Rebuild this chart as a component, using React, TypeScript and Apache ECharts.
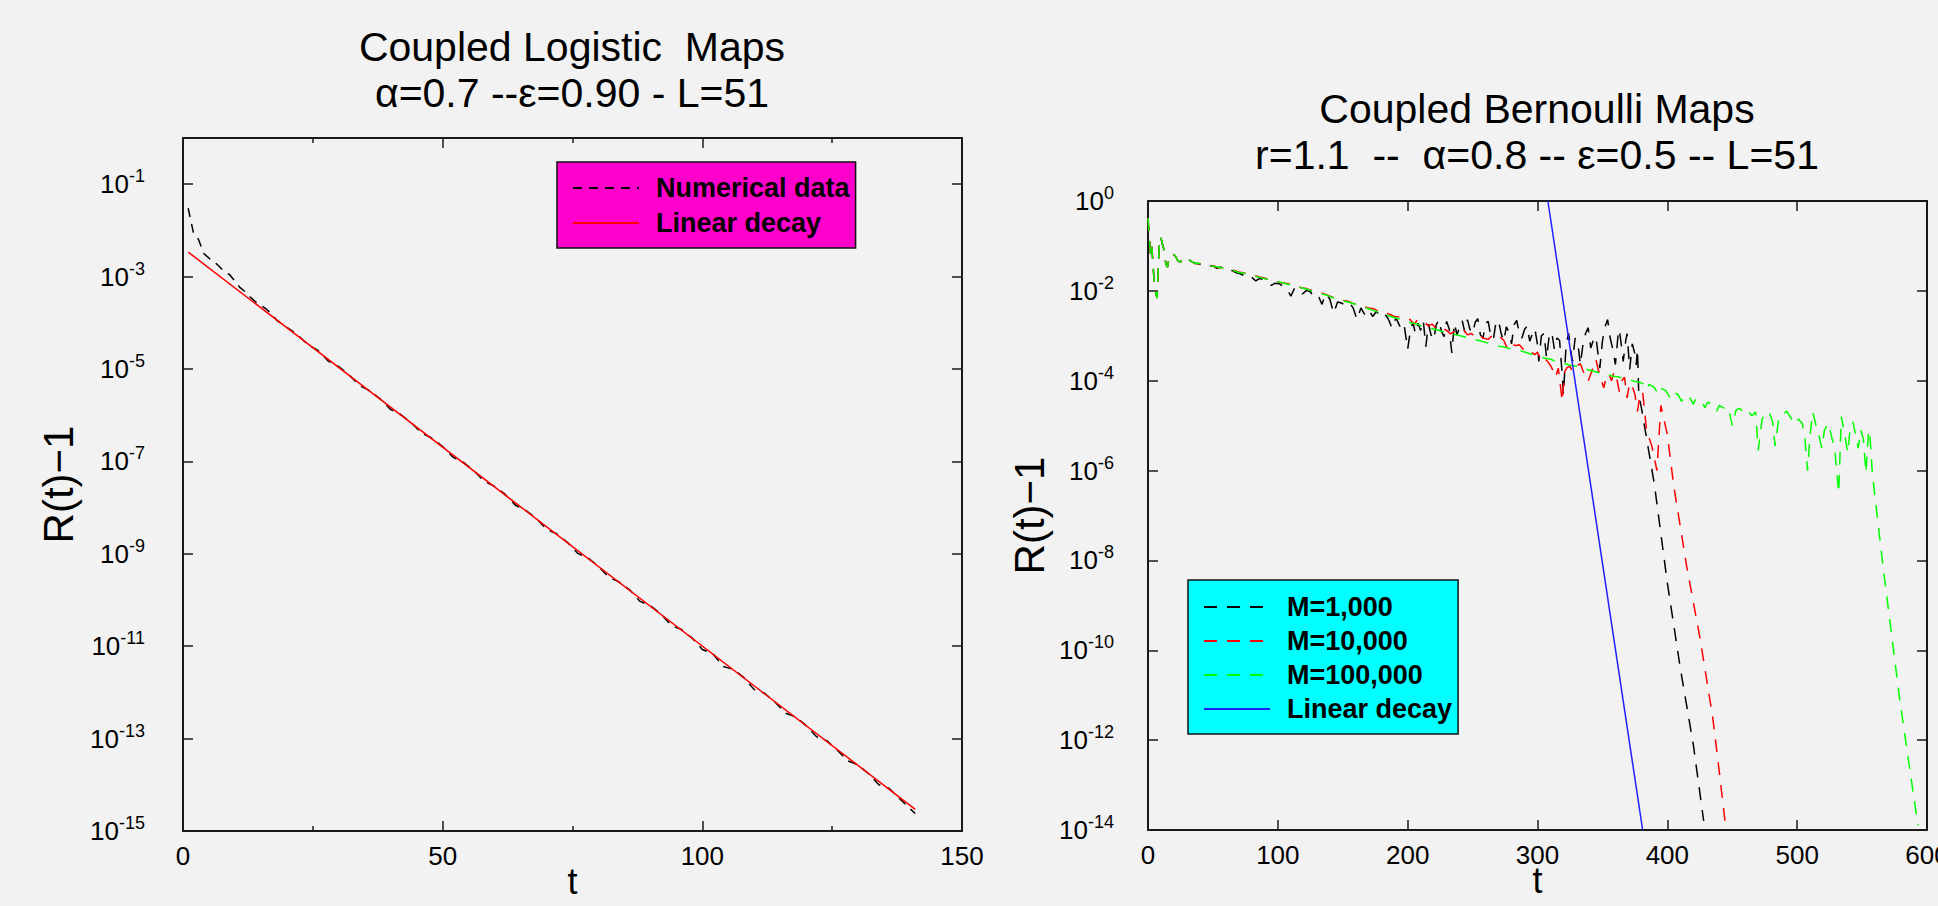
import React, { useEffect, useRef } from "react";
import * as echarts from "echarts";

const FONT = "'Liberation Sans', Arial, Helvetica, sans-serif";

// Left panel: coupled logistic maps, pairs of [t, log10(R(t)-1)]
const logisticNumerical: [number, number][] = [
  [1, -1.52], [2, -2.05], [3, -2.2], [4, -2.5], [5, -2.6], [6, -2.68], [7, -2.78], [8, -2.9],
  [9, -2.96], [10, -3.1], [11, -3.24], [12, -3.33], [13, -3.45], [14, -3.55], [15, -3.62],
  [16, -3.7], [17, -3.8], [18, -3.94], [19, -4.02], [20, -4.1], [22, -4.25], [24, -4.47],
  [26, -4.6], [28, -4.83], [30, -4.95], [32, -5.13], [34, -5.36], [36, -5.47], [38, -5.65],
  [40, -5.88], [42, -5.99], [44, -6.17], [46, -6.39], [48, -6.5], [50, -6.68], [52, -6.91],
  [54, -7.02], [56, -7.2], [58, -7.43], [60, -7.54], [62, -7.71], [64, -7.95], [66, -8.06],
  [68, -8.23], [70, -8.47], [72, -8.57], [74, -8.75], [76, -8.99], [78, -9.09], [80, -9.27],
  [82, -9.51], [84, -9.61], [86, -9.78], [88, -10.03], [90, -10.12], [92, -10.3], [94, -10.55],
  [96, -10.64], [98, -10.82], [100, -11.07], [102, -11.16], [104, -11.44], [106, -11.5],
  [108, -11.68], [110, -11.94], [112, -12.02], [114, -12.21], [116, -12.45], [118, -12.53],
  [120, -12.72], [122, -12.96], [124, -13.05], [126, -13.25], [128, -13.48], [130, -13.57],
  [132, -13.76], [134, -14.0], [136, -14.08], [138, -14.3], [140, -14.52], [141, -14.62],
];
const logisticLinearDecay: [number, number][] = [[1, -2.47], [141, -14.53]];

// Right panel: coupled Bernoulli maps, pairs of [t, log10(R(t)-1)]
const bernoulliTransient: [number, number][] = [
  [0, -0.38], [1, -0.8], [2, -1.22], [3, -1.02], [4, -1.5], [5, -1.85], [6, -2.05], [7, -2.16],
  [8, -1.4], [9, -0.8], [10, -0.83], [11, -0.95], [12, -1.05], [13, -1.28], [14, -1.42],
  [15, -1.47], [16, -1.3], [17, -1.2], [19, -1.18], [21, -1.22], [23, -1.33], [25, -1.36],
  [27, -1.28], [29, -1.24], [31, -1.29], [33, -1.34], [36, -1.39],
];
const m1000Tail: [number, number][] = [
  [38, -1.39], [41, -1.42], [44, -1.41], [47, -1.45], [50, -1.44], [53, -1.5], [56, -1.47],
  [59, -1.52], [62, -1.54], [65, -1.55], [68, -1.6], [71, -1.62], [74, -1.66], [77, -1.63],
  [80, -1.7], [83, -1.78], [86, -1.72], [89, -1.76], [92, -1.79], [95, -1.88], [98, -1.83],
  [101, -1.84], [104, -1.9], [107, -1.95], [110, -2.12], [113, -1.93], [116, -1.98],
  [119, -2.07], [122, -1.99], [125, -2.02], [128, -2.14], [131, -2.1], [134, -2.3],
  [137, -2.06], [140, -2.18], [143, -2.5], [146, -2.25], [149, -2.27], [152, -2.32],
  [155, -2.26], [158, -2.38], [161, -2.64], [164, -2.38], [167, -2.53], [170, -2.42],
  [173, -2.57], [176, -2.46], [179, -2.56], [182, -2.5], [185, -2.62], [188, -2.83],
  [191, -2.6], [194, -2.79], [197, -2.7], [200, -3.3], [202, -2.9], [204, -2.7], [206, -2.95],
  [208, -2.72], [210, -2.88], [212, -2.66], [214, -3.24], [216, -2.74], [218, -2.98],
  [220, -3.09], [222, -2.76], [224, -2.64], [226, -2.9], [228, -3.02], [230, -2.68],
  [232, -2.85], [234, -3.38], [236, -2.72], [238, -2.98], [240, -2.8], [242, -2.66],
  [244, -2.92], [246, -2.64], [248, -2.86], [250, -2.95], [252, -2.7], [254, -2.62],
  [256, -2.98], [258, -3.05], [260, -2.72], [262, -2.68], [264, -3.0], [266, -3.08],
  [268, -2.7], [270, -2.66], [272, -2.95], [274, -3.12], [276, -2.8], [278, -2.92],
  [280, -3.18], [282, -2.75], [284, -2.66], [286, -2.95], [288, -3.05], [290, -2.86],
  [292, -2.78], [294, -3.12], [296, -2.96], [298, -2.84], [300, -3.2], [301, -3.57],
  [303, -3.0], [305, -2.95], [307, -3.5], [309, -3.0], [311, -2.92], [313, -3.3], [315, -3.05],
  [317, -3.1], [319, -3.85], [320, -4.31], [322, -3.2], [324, -2.95], [326, -3.4], [327, -3.57],
  [329, -3.05], [331, -3.15], [333, -3.64], [335, -3.2], [337, -2.95], [339, -2.82],
  [341, -3.27], [343, -3.1], [345, -3.02], [347, -3.5], [348, -3.72], [350, -3.12],
  [352, -2.8], [354, -2.64], [356, -3.05], [358, -3.3], [360, -3.64], [362, -3.0],
  [363, -2.86], [365, -3.3], [366, -3.57], [368, -3.1], [369, -2.95], [371, -3.75],
  [373, -3.18], [375, -3.4], [376, -3.65], [377, -3.3], [378, -4.31], [380, -4.6],
  [390, -6.3], [400, -8.5], [410, -10.4], [420, -12.1], [428, -13.8],
];
const m10000Tail: [number, number][] = [
  [38, -1.39], [42, -1.4], [46, -1.43], [50, -1.44], [54, -1.48], [58, -1.49], [62, -1.53],
  [66, -1.54], [70, -1.58], [74, -1.6], [78, -1.64], [82, -1.66], [86, -1.69], [90, -1.72],
  [94, -1.76], [98, -1.77], [102, -1.82], [106, -1.83], [110, -1.86], [114, -1.88],
  [118, -1.93], [122, -1.95], [126, -1.99], [130, -2.02], [134, -2.05], [138, -2.09],
  [142, -2.14], [146, -2.16], [150, -2.21], [154, -2.23], [158, -2.28], [162, -2.3],
  [166, -2.35], [170, -2.38], [174, -2.4], [178, -2.46], [182, -2.48], [186, -2.52],
  [190, -2.57], [194, -2.58], [198, -2.62], [202, -2.64], [205, -2.75], [207, -2.66],
  [210, -2.73], [213, -2.7], [216, -2.78], [219, -2.74], [222, -2.85], [226, -2.82],
  [230, -2.88], [233, -2.96], [236, -2.9], [240, -2.92], [243, -2.86], [246, -2.98],
  [249, -2.95], [252, -3.02], [255, -2.96], [258, -3.05], [262, -3.08], [265, -3.0],
  [268, -3.06], [271, -3.02], [274, -3.1], [277, -3.3], [280, -3.18], [283, -3.22],
  [286, -3.2], [289, -3.3], [292, -3.27], [296, -3.38], [298, -3.42], [300, -3.36],
  [302, -3.5], [304, -3.44], [306, -3.52], [308, -3.58], [310, -3.66], [312, -3.78],
  [314, -3.92], [316, -3.72], [318, -4.2], [319, -4.46], [321, -3.8], [323, -3.7],
  [325, -3.68], [327, -3.8], [329, -3.72], [331, -3.66], [333, -3.62], [335, -3.78],
  [337, -3.88], [339, -4.01], [341, -3.85], [343, -3.7], [345, -3.53], [347, -3.78],
  [349, -3.95], [351, -4.16], [353, -3.92], [355, -3.85], [357, -4.0], [359, -3.8],
  [361, -3.95], [363, -4.24], [365, -4.0], [367, -3.92], [369, -4.38], [371, -4.05],
  [373, -4.12], [375, -4.3], [377, -4.68], [379, -4.3], [381, -4.25], [384, -5.1],
  [388, -5.45], [392, -6.0], [395, -4.55], [400, -5.2], [405, -6.35], [415, -8.15],
  [425, -9.7], [435, -11.5], [440, -12.7], [445, -13.95],
];
const m100000Tail: [number, number][] = [
  [38, -1.38], [42, -1.41], [46, -1.42], [50, -1.45], [54, -1.47], [58, -1.5], [62, -1.53],
  [66, -1.55], [70, -1.59], [74, -1.61], [78, -1.64], [82, -1.67], [86, -1.7], [90, -1.73],
  [94, -1.75], [98, -1.79], [102, -1.81], [106, -1.84], [110, -1.87], [114, -1.89],
  [118, -1.93], [122, -1.96], [126, -2.0], [130, -2.03], [134, -2.07], [138, -2.1],
  [142, -2.15], [146, -2.18], [150, -2.22], [154, -2.25], [158, -2.28], [162, -2.33],
  [166, -2.36], [170, -2.4], [174, -2.44], [178, -2.48], [182, -2.51], [186, -2.56],
  [190, -2.6], [194, -2.63], [198, -2.67], [202, -2.71], [206, -2.73], [210, -2.77],
  [214, -2.8], [218, -2.84], [222, -2.86], [226, -2.9], [230, -2.92], [234, -2.96],
  [238, -2.98], [242, -3.01], [246, -3.04], [250, -3.07], [254, -3.1], [258, -3.13],
  [262, -3.16], [266, -3.2], [270, -3.23], [274, -3.25], [278, -3.28], [282, -3.31],
  [286, -3.33], [290, -3.36], [294, -3.4], [298, -3.43], [302, -3.47], [306, -3.5],
  [310, -3.52], [314, -3.57], [318, -3.6], [322, -3.63], [326, -3.66], [330, -3.68],
  [334, -3.72], [338, -3.75], [342, -3.78], [346, -3.81], [350, -3.84], [354, -3.86],
  [358, -3.9], [362, -3.91], [366, -3.95], [370, -3.97], [374, -4.01], [378, -4.03],
  [381, -4.06], [384, -4.2], [386, -4.08], [390, -4.15], [393, -4.3], [395, -4.17],
  [399, -4.22], [402, -4.38], [404, -4.25], [408, -4.3], [411, -4.46], [413, -4.33],
  [417, -4.36], [420, -4.52], [422, -4.4], [426, -4.45], [429, -4.6], [431, -4.48],
  [435, -4.52], [438, -4.68], [440, -4.55], [444, -4.62], [447, -4.6], [450, -5.0],
  [453, -4.65], [456, -4.62], [459, -4.72], [462, -4.66], [465, -4.78], [468, -4.7],
  [470, -5.55], [473, -4.85], [476, -4.72], [478, -4.68], [481, -4.9], [483, -5.45],
  [486, -4.8], [489, -4.74], [492, -4.68], [495, -4.82], [498, -4.97], [501, -4.85],
  [504, -4.95], [506, -5.3], [508, -6.0], [510, -5.2], [512, -4.7], [515, -5.05],
  [517, -5.25], [519, -5.5], [521, -5.1], [524, -4.95], [527, -5.3], [529, -5.55],
  [532, -6.5], [534, -4.8], [536, -5.1], [539, -5.6], [541, -5.0], [543, -4.92],
  [545, -5.2], [547, -5.5], [549, -5.1], [551, -5.3], [553, -6.05], [555, -5.1],
  [556, -5.2], [558, -6.1], [566, -8.1], [579, -11.1], [593, -13.9],
];
const bernoulliLinearDecay: [number, number][] = [[308, 0], [381, -14]];

// Axis ranges
const logisticT = { min: 0, max: 150, step: 50 };
const logisticR = { min: 1e-15, max: 1, decadeStep: 2 };
const bernoulliT = { min: 0, max: 600, step: 100 };
const bernoulliR = { min: 1e-14, max: 1, decadeStep: 2 };

const legendLabels: Record<string, string> = {
  "Bernoulli linear decay": "Linear decay",
};

const toValues = (pts: [number, number][]) => pts.map(([t, e]) => [t, Math.pow(10, e)]);

const powerLabel = (value: number) => {
  const e = Math.round(Math.log10(value));
  return `{b|10}{s|${e}}`;
};

const powerRich = {
  b: { fontSize: 26, fontFamily: FONT, color: "#000" },
  s: { fontSize: 18, fontFamily: FONT, color: "#000", padding: [0, 0, 16, 0] },
};

const frameLine = { show: true, onZero: false, lineStyle: { color: "#1a1a1a", width: 2 } };
const tickStyle = { show: true, inside: true, length: 10, lineStyle: { color: "#1a1a1a", width: 1.5 } };

function tAxis(grid: number, range: { min: number; max: number; step: number }, top: boolean, minor: boolean) {
  return {
    type: "value",
    gridIndex: grid,
    position: top ? "top" : "bottom",
    min: range.min,
    max: range.max,
    interval: range.step,
    name: top ? "" : "t",
    nameLocation: "middle",
    nameGap: 38,
    nameMoveOverlap: false,
    nameTextStyle: { fontSize: 36, lineHeight: 24, fontFamily: FONT, color: "#000" },
    axisLine: frameLine,
    axisTick: tickStyle,
    minorTick: { show: minor, splitNumber: 2, length: 5, lineStyle: { color: "#1a1a1a", width: 1.5 } },
    splitLine: { show: false },
    axisLabel: {
      show: !top,
      margin: 12,
      fontSize: 26,
      fontFamily: FONT,
      color: "#000",
    },
  };
}

function rAxis(grid: number, range: { min: number; max: number; decadeStep: number }, right: boolean, margin: number, nameGap: number) {
  return {
    type: "log",
    logBase: 10,
    gridIndex: grid,
    position: right ? "right" : "left",
    min: range.min,
    max: range.max,
    interval: range.decadeStep,
    name: right ? "" : "R(t)\u22121",
    nameLocation: "middle",
    nameRotate: 90,
    nameGap,
    nameMoveOverlap: false,
    nameTextStyle: { fontSize: 42, fontFamily: FONT, color: "#000" },
    axisLine: frameLine,
    axisTick: tickStyle,
    minorTick: { show: false },
    splitLine: { show: false },
    axisLabel: {
      show: !right,
      margin,
      showMaxLabel: grid === 1,
      formatter: powerLabel,
      rich: powerRich,
    },
  };
}

const titleText = { fontSize: 41, lineHeight: 46, fontWeight: "normal", fontFamily: FONT, color: "#000" };
const legendText = { fontSize: 27, fontWeight: "bold", fontFamily: FONT, color: "#000", lineHeight: 30, padding: [0, 0, 0, 12] };
const hiddenSymbol = { color: "rgba(0,0,0,0)", borderColor: "rgba(0,0,0,0)", borderWidth: 0 };

const option = {
  animation: false,
  backgroundColor: "#f2f2f2",
  textStyle: { fontFamily: FONT },
  title: [
    {
      text: "Coupled Logistic  Maps\n\u03b1=0.7 --\u03b5=0.90 - L=51",
      left: 572,
      top: 24,
      textAlign: "center",
      padding: 0,
      textStyle: titleText,
    },
    {
      text: "Coupled Bernoulli Maps\nr=1.1  --  \u03b1=0.8 -- \u03b5=0.5 -- L=51",
      left: 1537,
      top: 86,
      textAlign: "center",
      padding: 0,
      textStyle: titleText,
    },
  ],
  legend: [
    {
      data: ["Numerical data", "Linear decay"],
      orient: "vertical",
      left: 557,
      top: 162,
      padding: [11, 6, 10, 15],
      itemGap: 5,
      itemWidth: 66,
      itemHeight: 30,
      itemStyle: hiddenSymbol,
      backgroundColor: "#ff00cc",
      borderColor: "#111",
      borderWidth: 1.5,
      textStyle: legendText,
      selectedMode: false,
    },
    {
      data: ["M=1,000", "M=10,000", "M=100,000", "Bernoulli linear decay"],
      orient: "vertical",
      left: 1188,
      top: 580,
      padding: [12, 6, 10, 15],
      itemGap: 4,
      itemWidth: 66,
      itemHeight: 30,
      itemStyle: hiddenSymbol,
      backgroundColor: "#00ffff",
      borderColor: "#111",
      borderWidth: 1.5,
      textStyle: legendText,
      selectedMode: false,
      formatter: (name: string) => legendLabels[name] ?? name,
    },
  ],
  grid: [
    { left: 183, top: 138, width: 779, height: 693, outerBoundsMode: "none", containLabel: false },
    { left: 1148, top: 201, width: 779, height: 629, outerBoundsMode: "none", containLabel: false },
  ],
  xAxis: [
    tAxis(0, logisticT, false, true),
    tAxis(0, logisticT, true, true),
    tAxis(1, bernoulliT, false, false),
    tAxis(1, bernoulliT, true, false),
  ],
  yAxis: [
    rAxis(0, logisticR, false, 38, 104),
    rAxis(0, logisticR, true, 38, 0),
    rAxis(1, bernoulliR, false, 34, 98),
    rAxis(1, bernoulliR, true, 34, 0),
  ],
  series: [
    {
      name: "Numerical data",
      type: "line",
      xAxisIndex: 0,
      yAxisIndex: 0,
      data: toValues(logisticNumerical),
      symbol: "none",
      lineStyle: { color: "#000", width: 1.5, type: [9, 7] },
      itemStyle: { color: "#000" },
      z: 2,
    },
    {
      name: "Linear decay",
      type: "line",
      xAxisIndex: 0,
      yAxisIndex: 0,
      data: toValues(logisticLinearDecay),
      symbol: "none",
      lineStyle: { color: "#ff0000", width: 1.5 },
      itemStyle: { color: "#ff0000" },
      z: 3,
    },
    {
      name: "M=1,000",
      type: "line",
      xAxisIndex: 2,
      yAxisIndex: 2,
      data: toValues([...bernoulliTransient, ...m1000Tail]),
      symbol: "none",
      lineStyle: { color: "#000", width: 1.5, type: [13, 10] },
      itemStyle: { color: "#000" },
      z: 2,
    },
    {
      name: "M=10,000",
      type: "line",
      xAxisIndex: 2,
      yAxisIndex: 2,
      data: toValues([...bernoulliTransient, ...m10000Tail]),
      symbol: "none",
      lineStyle: { color: "#ff0000", width: 1.5, type: [13, 10] },
      itemStyle: { color: "#ff0000" },
      z: 3,
    },
    {
      name: "M=100,000",
      type: "line",
      xAxisIndex: 2,
      yAxisIndex: 2,
      data: toValues([...bernoulliTransient, ...m100000Tail]),
      symbol: "none",
      lineStyle: { color: "#00ff00", width: 1.5, type: [13, 10] },
      itemStyle: { color: "#00ff00" },
      z: 4,
    },
    {
      name: "Bernoulli linear decay",
      type: "line",
      xAxisIndex: 2,
      yAxisIndex: 2,
      data: toValues(bernoulliLinearDecay),
      symbol: "none",
      lineStyle: { color: "#2020ff", width: 1.5 },
      itemStyle: { color: "#2020ff" },
      z: 5,
    },
  ],
};

export default function App() {
  const ref = useRef<HTMLDivElement>(null);
  useEffect(() => {
    if (!ref.current) return;
    const chart = echarts.init(ref.current, null, { renderer: "svg" });
    chart.setOption(option as any);
    return () => chart.dispose();
  }, []);
  return (
    <div
      ref={ref}
      style={{ position: "fixed", left: 0, top: 0, width: 1938, height: 906 }}
    />
  );
}
